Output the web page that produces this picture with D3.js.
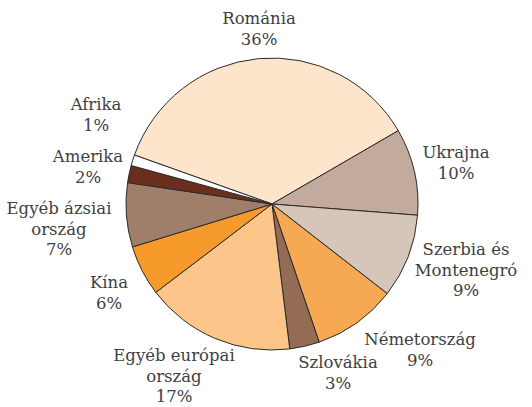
<!DOCTYPE html>
<html>
<head>
<meta charset="utf-8">
<script src="https://cdn.jsdelivr.net/npm/d3@7"></script>
<style>
  body { margin: 0; background: #fff; }
  text { font-family: "DejaVu Serif", serif; font-size: 16.5px; fill: #404040; }
</style>
</head>
<body>
<svg width="532" height="407"></svg>
<script>
// slices, clockwise starting with Románia
var names = ["Románia", "Ukrajna", "Szerbia és Montenegró", "Németország", "Szlovákia",
             "Egyéb európai ország", "Kína", "Egyéb ázsiai ország", "Amerika", "Afrika"];
var shares = [36.2, 9.6, 9.3, 9.25, 3.3, 16.6, 5.6, 7.1, 1.9, 1.2];
var pctLabels = ["36%", "10%", "9%", "9%", "3%", "17%", "6%", "7%", "2%", "1%"];
var labelLines = [["Románia"], ["Ukrajna"], ["Szerbia és", "Montenegró"], ["Németország"],
                  ["Szlovákia"], ["Egyéb európai", "ország"], ["Kína"], ["Egyéb ázsiai", "ország"],
                  ["Amerika"], ["Afrika"]];
var colors = ["#fde5cb", "#c2aa9c", "#d6c5b9", "#f7a853", "#946c55",
              "#fcc68b", "#f59a2b", "#a07e69", "#6b2e1d", "#ffffff"];

// label placement (centre x, first baseline y), layout only
var labelPos = [[259, 24], [456, 158], [466, 255], [420, 345], [338, 368],
                [174, 361], [109, 288], [59, 214], [88, 162], [96, 110]];

var svg = d3.select("svg"),
    cx = 272, cy = 204, r = 146;

var start = -70.4 * Math.PI / 180;
var pie = d3.pie().sort(null).value(function(d) { return d; })
    .startAngle(start).endAngle(start + 2 * Math.PI);
var arc = d3.arc().innerRadius(0).outerRadius(r);

var g = svg.append("g").attr("transform", "translate(" + cx + "," + cy + ")");

g.selectAll("path")
    .data(pie(shares))
    .enter().append("path")
    .attr("d", arc)
    .attr("fill", function(d, i) { return colors[i]; })
    .attr("stroke", "#2b2b2b")
    .attr("stroke-width", 1)
    .attr("stroke-linejoin", "round");

var lh = 20.5;
names.forEach(function(n, i) {
  var lines = labelLines[i].concat([pctLabels[i]]);
  var t = svg.append("text")
      .attr("text-anchor", "middle");
  lines.forEach(function(s, j) {
    t.append("tspan")
      .attr("x", labelPos[i][0])
      .attr("y", labelPos[i][1] + j * lh)
      .text(s);
  });
});
</script>
</body>
</html>
